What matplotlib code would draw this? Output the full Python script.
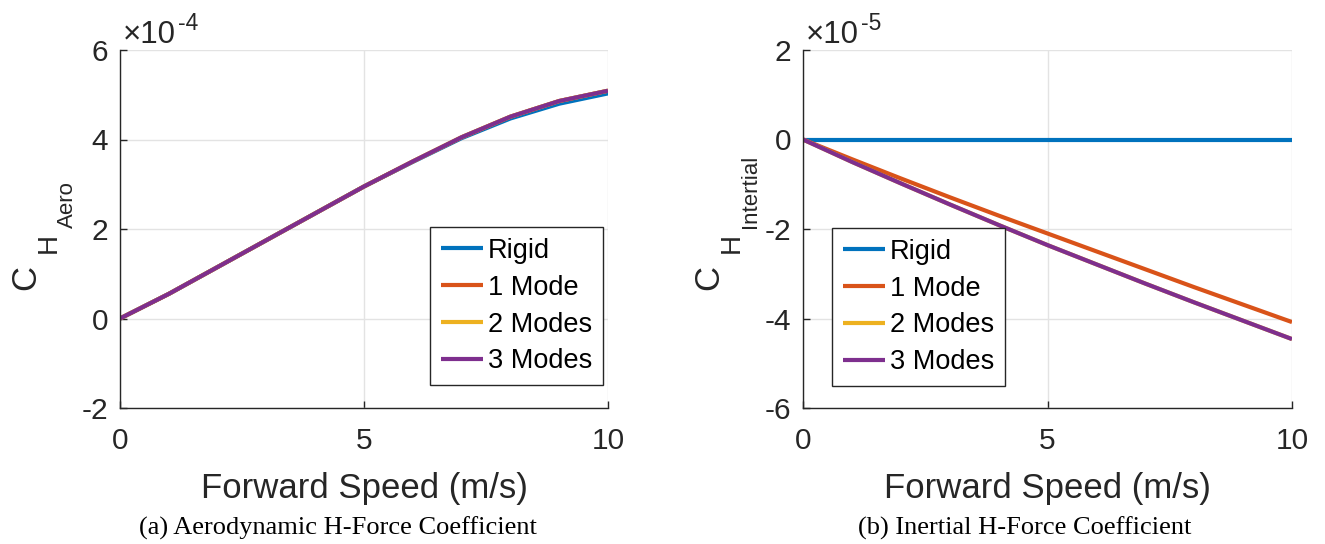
import matplotlib
matplotlib.use("Agg")
import matplotlib.pyplot as plt

speed = [0, 1, 2, 3, 4, 5, 6, 7, 8, 9, 10]
labels = ["Rigid", "1 Mode", "2 Modes", "3 Modes"]
colors = ["#0072BD", "#D95319", "#EDB120", "#7E2F8E"]

# Aerodynamic H-force coefficient (x1e-4)
aero_rigid = [0, 0.55, 1.15, 1.75, 2.35, 2.95, 3.50, 4.03, 4.47, 4.80, 5.03]
aero_1mode = [0, 0.55, 1.15, 1.75, 2.35, 2.95, 3.51, 4.05, 4.51, 4.86, 5.09]
aero_2mode = [0, 0.55, 1.15, 1.75, 2.35, 2.95, 3.51, 4.05, 4.51, 4.86, 5.09]
aero_3mode = [0, 0.55, 1.15, 1.75, 2.35, 2.95, 3.51, 4.05, 4.51, 4.86, 5.09]

# Inertial H-force coefficient (x1e-5)
iner_rigid = [0, 0, 0, 0, 0, 0, 0, 0, 0, 0, 0]
iner_1mode = [0, -0.44, -0.87, -1.29, -1.70, -2.10, -2.50, -2.90, -3.30, -3.69, -4.08]
iner_2mode = [0, -0.50, -0.98, -1.45, -1.91, -2.36, -2.79, -3.22, -3.64, -4.05, -4.46]
iner_3mode = [0, -0.50, -0.98, -1.45, -1.91, -2.36, -2.79, -3.22, -3.64, -4.05, -4.46]

plt.rcParams['font.family'] = ['Liberation Sans', 'DejaVu Sans']

W, H = 1325, 544
fig = plt.figure(figsize=(W / 100, H / 100), dpi=100)

def fx(px):
    return px / W

def fy(py):
    return 1 - py / H

def make_axes(l, r, t, b):
    return fig.add_axes([l / W, 1 - b / H, (r - l) / W, (b - t) / H])

AX1_L, AX2_L = 120, 803
ax1 = make_axes(AX1_L, 608, 50, 408)
ax2 = make_axes(AX2_L, 1292, 50, 408)

dark = "#262626"

def style(ax, left_px, ylim, yticks, expo, sub):
    ax.set_xlim(0, 10)
    ax.set_ylim(*ylim)
    ax.set_xticks([0, 5, 10])
    ax.set_yticks(yticks)
    ax.set_yticklabels([str(v) for v in yticks])
    ax.grid(True, color="#e3e3e3", linewidth=1.0)
    ax.set_axisbelow(True)
    for s in ["top", "right"]:
        ax.spines[s].set_visible(False)
    for s in ["left", "bottom"]:
        ax.spines[s].set_color(dark)
        ax.spines[s].set_linewidth(1.0)
    ax.tick_params(direction="in", length=5, width=1.0, colors=dark,
                   labelsize=21.5, labelcolor=dark)
    ax.tick_params(axis="x", pad=14)
    ax.tick_params(axis="y", pad=8.5)
    ax.set_xlabel("Forward Speed (m/s)", fontsize=25, color=dark, labelpad=12)
    # exponent label
    t = fig.text(fx(left_px + 3), fy(43), "\u00d710", fontsize=22.5, color=dark,
                 ha="left", va="baseline")
    ax.annotate(expo, xy=(1.0, 0.0), xycoords=t, xytext=(1.5, 14.5),
                textcoords="offset points", fontsize=16.5, color=dark,
                ha="left", va="baseline", annotation_clip=False)
    # y label C_{H_{sub}} built from rotated pieces
    off = left_px - 120
    fig.text(fx(off + 35), fy(290), "C", fontsize=25, color=dark, rotation=90,
             rotation_mode="anchor", ha="left", va="baseline")
    fig.text(fx(off + 56), fy(253), "H", fontsize=20, color=dark, rotation=90,
             rotation_mode="anchor", ha="left", va="baseline")
    fig.text(fx(off + 73), fy(228), sub, fontsize=16, color=dark, rotation=90,
             rotation_mode="anchor", ha="left", va="baseline")

series1 = [aero_rigid, aero_1mode, aero_2mode, aero_3mode]
for ys, lab, c in zip(series1, labels, colors):
    ax1.plot(speed, ys, color=c, linewidth=3, label=lab, solid_capstyle="butt")
style(ax1, AX1_L, (-2, 6), [-2, 0, 2, 4, 6], "-4", "Aero")

series2 = [iner_rigid, iner_1mode, iner_2mode, iner_3mode]
for ys, lab, c in zip(series2, labels, colors):
    ax2.plot(speed, ys, color=c, linewidth=3, label=lab, solid_capstyle="butt")
style(ax2, AX2_L, (-6, 2), [-6, -4, -2, 0, 2], "-5", "Intertial")

leg_kw = dict(fontsize=19.5, frameon=True, fancybox=False, handlelength=1.55,
              handletextpad=0.18, borderpad=0.4, labelspacing=0.4, borderaxespad=0)
l1 = ax1.legend(loc="upper left", bbox_to_anchor=((430 - 120) / 488, (408 - 227) / 358), **leg_kw)
l2 = ax2.legend(loc="upper left", bbox_to_anchor=((832 - 803) / 489, (408 - 228) / 358), **leg_kw)
for lg in (l1, l2):
    lg.get_frame().set_edgecolor(dark)
    lg.get_frame().set_linewidth(1.0)
    lg.get_frame().set_alpha(1)
    for ln in lg.get_lines():
        ln.set_linewidth(3)

serif = ["Liberation Serif", "DejaVu Serif"]
fig.text(fx(338), fy(528), "(a) Aerodynamic H-Force Coefficient",
         family=serif, fontsize=19, ha="center", va="center")
fig.text(fx(1025), fy(528), "(b) Inertial H-Force Coefficient",
         family=serif, fontsize=19, ha="center", va="center")

fig.savefig("out.png", dpi=100)
